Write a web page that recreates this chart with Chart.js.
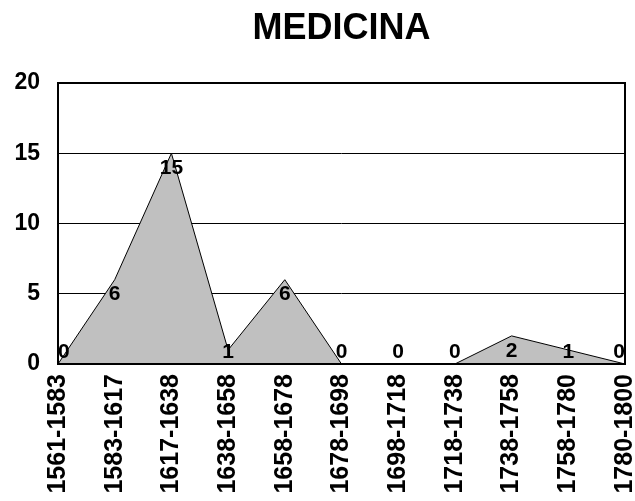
<!DOCTYPE html>
<html>
<head>
<meta charset="utf-8">
<script src="https://cdn.jsdelivr.net/npm/chart.js@4/dist/chart.umd.min.js"></script>
<style>
  html, body { margin: 0; padding: 0; background: #fff; }
  #wrap { width: 635px; height: 501px; position: relative; }
</style>
</head>
<body>
<div id="wrap"><canvas id="c" width="635" height="501"></canvas></div>
<script>
const title = "MEDICINA";
const categories = ["1561-1583","1583-1617","1617-1638","1638-1658","1658-1678","1678-1698","1698-1718","1718-1738","1738-1758","1758-1780","1780-1800"];
const values = [0, 6, 15, 1, 6, 0, 0, 0, 2, 1, 0];
const yTicks = [0, 5, 10, 15, 20];

const FONT = "'Liberation Sans', Arial, sans-serif";

const decorPlugin = {
  id: 'decor',
  afterDatasetsDraw(chart) {
    const ctx = chart.ctx;
    const a = chart.chartArea;
    ctx.save();
    ctx.strokeStyle = '#000';
    ctx.lineWidth = 2;
    ctx.strokeRect(a.left, a.top, a.right - a.left, a.bottom - a.top);
    const meta = chart.getDatasetMeta(0);
    ctx.font = "bold 21px " + FONT;
    ctx.fillStyle = '#000';
    ctx.textAlign = 'center';
    ctx.textBaseline = 'middle';
    meta.data.forEach((pt, i) => {
      const txt = String(values[i]);
      const hw = ctx.measureText(txt).width / 2;
      let x = Math.min(Math.max(pt.x, a.left + hw), a.right - hw);
      let y = Math.min(pt.y + 15, a.bottom - 12);
      ctx.fillText(txt, x, y);
    });
    ctx.font = "bold 36px " + FONT;
    ctx.textBaseline = 'alphabetic';
    ctx.fillText(title, (a.left + a.right) / 2, 39);
    ctx.restore();
  }
};

new Chart(document.getElementById('c'), {
  type: 'line',
  data: {
    labels: categories,
    datasets: [{
      data: values,
      fill: 'origin',
      backgroundColor: '#C0C0C0',
      borderColor: '#000',
      borderWidth: 1,
      pointRadius: 0,
      tension: 0
    }]
  },
  options: {
    responsive: false,
    animation: false,
    devicePixelRatio: 1,
    layout: { padding: { top: 83, right: 10, left: 0, bottom: 0 } },
    plugins: { legend: { display: false }, tooltip: { enabled: false }, title: { display: false } },
    scales: {
      x: {
        offset: false,
        grid: { display: false, drawTicks: false },
        border: { display: false },
        ticks: {
          autoSkip: false,
          maxRotation: 90,
          minRotation: 90,
          padding: 10,
          color: '#000',
          font: { family: FONT, size: 25, weight: 'bold' }
        },
        afterFit(s) { s.height = 137; s.paddingLeft = 0; s.paddingRight = 0; }
      },
      y: {
        min: 0,
        max: 20,
        afterBuildTicks(s) { s.ticks = yTicks.map(v => ({ value: v })); },
        grid: { color: '#000', lineWidth: 1, drawTicks: false },
        border: { display: false },
        ticks: {
          padding: 18,
          color: '#000',
          font: { family: FONT, size: 23, weight: 'bold' }
        },
        afterFit(s) { s.width = 58; s.paddingTop = 0; s.paddingBottom = 0; }
      }
    }
  },
  plugins: [decorPlugin]
});
</script>
</body>
</html>
